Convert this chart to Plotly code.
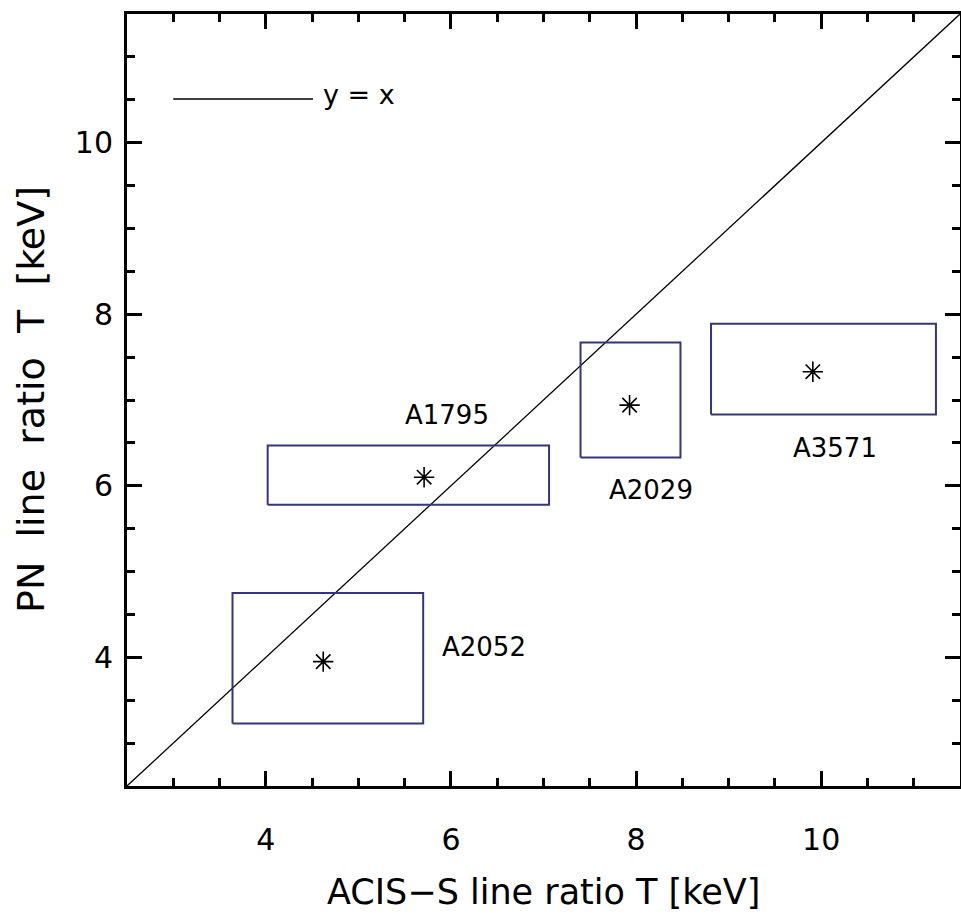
import plotly.graph_objects as go

# ---- data ----
clusters = ["A2052", "A1795", "A2029", "A3571"]
acis_T = [4.62, 5.71, 7.93, 9.91]
acis_lo = [3.64, 4.02, 7.40, 8.81]
acis_hi = [5.70, 7.06, 8.48, 11.24]
pn_T = [3.95, 6.10, 6.94, 7.33]
pn_lo = [3.23, 5.78, 6.33, 6.83]
pn_hi = [4.75, 6.47, 7.67, 7.89]

# label anchor positions (data coords)
label_x = [6.36, 5.96, 8.16, 10.15]
label_y = [4.12, 6.83, 5.95, 6.44]

axis_range = [2.5, 11.5]
x_ticks = [4, 6, 8, 10]
y_ticks = [4, 6, 8, 10]

FONT = "DejaVu Sans"
BOX_COLOR = "#35357f"

fig = go.Figure()

# y = x line across the full range
fig.add_trace(go.Scatter(
    x=axis_range, y=axis_range, mode="lines",
    line=dict(color="black", width=1.3), hoverinfo="skip", showlegend=False))

# error boxes
for i, name in enumerate(clusters):
    fig.add_trace(go.Scatter(
        x=[acis_lo[i], acis_hi[i], acis_hi[i], acis_lo[i], acis_lo[i]],
        y=[pn_lo[i], pn_lo[i], pn_hi[i], pn_hi[i], pn_lo[i]],
        mode="lines", line=dict(color=BOX_COLOR, width=2),
        hoverinfo="skip", showlegend=False))

# central values
fig.add_trace(go.Scatter(
    x=acis_T, y=pn_T, mode="markers",
    marker=dict(symbol="asterisk-open", size=17, color="black",
                line=dict(color="black", width=1.6)),
    showlegend=False))

annotations = []
for i, name in enumerate(clusters):
    annotations.append(dict(
        x=label_x[i], y=label_y[i], xref="x", yref="y", text=name,
        showarrow=False, xanchor="center", yanchor="middle",
        font=dict(family=FONT, size=26, color="black")))

# legend sample
annotations.append(dict(
    x=4.60, y=10.56, xref="x", yref="y", text="y = x", showarrow=False,
    xanchor="left", yanchor="middle",
    font=dict(family=FONT, size=27, color="black")))

# axis titles
annotations.append(dict(
    x=0.5, y=0, xref="paper", yref="paper", text="ACIS\u2212S line ratio T [keV]",
    showarrow=False, xanchor="center", yanchor="middle", yshift=-106,
    font=dict(family=FONT, size=35, color="black")))
annotations.append(dict(
    x=0, y=0.5, xref="paper", yref="paper",
    text="PN\u00a0 line\u00a0 ratio\u00a0 T\u00a0 [keV]",
    showarrow=False, xanchor="center", yanchor="middle", xshift=-96,
    textangle=-90, font=dict(family=FONT, size=38, color="black")))

shapes = [dict(type="line", xref="x", yref="y", x0=3.0, x1=4.51, y0=10.51, y1=10.51,
               line=dict(color="black", width=1.5))]

axis_common = dict(
    range=axis_range, showgrid=False, zeroline=False,
    showline=True, linecolor="black", linewidth=3, mirror="ticks",
    ticks="inside", ticklen=15, tickwidth=3, tickcolor="black",
    tickfont=dict(family=FONT, size=30, color="black"),
    minor=dict(ticks="inside", ticklen=8, tickwidth=3, tickcolor="black", dtick=0.5, showgrid=False),
)

fig.update_layout(
    width=963, height=917,
    margin=dict(l=127, r=0, t=14, b=131),
    paper_bgcolor="white", plot_bgcolor="white",
    xaxis=dict(**axis_common, tickvals=x_ticks, ticktext=[str(v) for v in x_ticks],
               ticklabelstandoff=25),
    yaxis=dict(**axis_common, tickvals=y_ticks, ticktext=[str(v) for v in y_ticks],
               ticklabelstandoff=5),
    annotations=annotations, shapes=shapes,
    showlegend=False,
)

fig.write_html("out.html", config={"displayModeBar": False},
               post_script="document.body.style.margin='0';document.body.style.overflow='hidden';")
